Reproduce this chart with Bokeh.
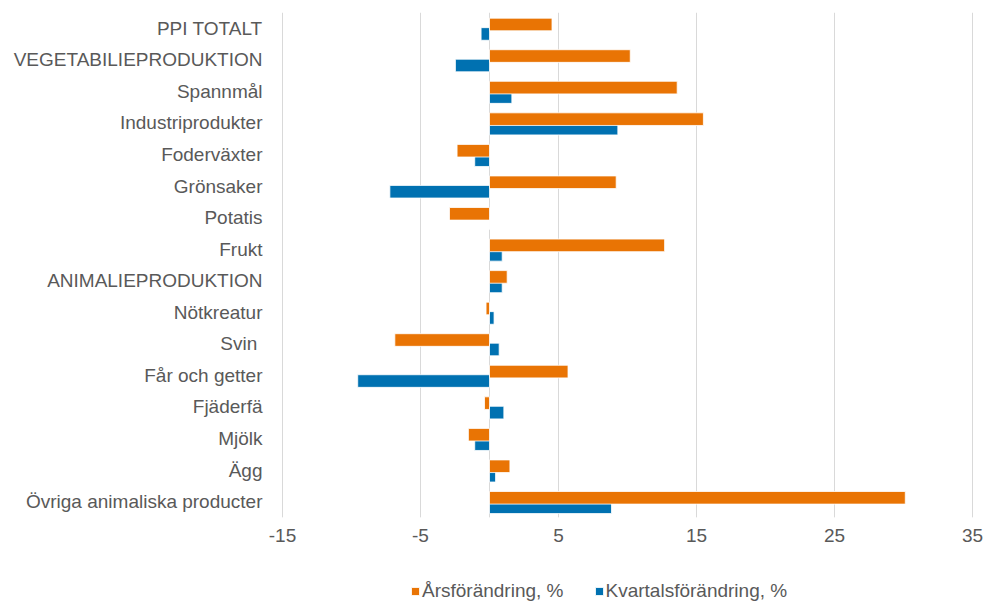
from bokeh.plotting import figure
from bokeh.models import (Range1d, FixedTicker, Legend, LegendItem, ColumnDataSource)
from bokeh.transform import dodge
from bokeh.embed import file_html
from bokeh.resources import INLINE

categories = ["PPI TOTALT", "VEGETABILIEPRODUKTION", "Spannmål", "Industriprodukter",
              "Foderväxter", "Grönsaker", "Potatis", "Frukt", "ANIMALIEPRODUKTION",
              "Nötkreatur", "Svin ", "Får och getter", "Fjäderfä", "Mjölk", "Ägg",
              "Övriga animaliska producter"]
ars = [4.53, 10.2, 13.6, 15.5, -2.35, 9.18, -2.9, 12.69, 1.28, -0.25, -6.86,
       5.69, -0.36, -1.53, 1.48, 30.13]
kvartal = [-0.61, -2.47, 1.62, 9.3, -1.07, -7.22, 0.0, 0.92, 0.92, 0.33, 0.70,
           -9.55, 1.04, -1.07, 0.44, 8.84]
x_ticks = [-15, -5, 5, 15, 25, 35]
x_tick_labels = ["-15", "-5", "5", "15", "25", "35"]

ORANGE = "#E97404"
BLUE = "#0071B1"
GRID = "#D9D9D9"
GRAY_TXT = "#595959"
FONT = "Liberation Sans"
FS = "19px"

n = len(categories)
pos = list(range(n))
top_edge = -0.5
bottom_edge = n - 0.5

src = ColumnDataSource(dict(pos=pos, ars=ars, kv=kvartal))
grid_src = ColumnDataSource(dict(x=x_ticks))

p = figure(width=989, height=603,
           x_range=Range1d(-16.449, 36.232),
           y_range=Range1d(start=18.23, end=top_edge),
           output_backend="svg", toolbar_location=None,
           min_border_left=262, min_border_right=0, min_border_top=12,
           min_border_bottom=0)
p.outline_line_color = None
p.background_fill_color = "white"
p.border_fill_color = "white"
p.xgrid.visible = False
p.ygrid.visible = False

# vertical grid lines and zero line, limited to the category area
p.segment(x0="x", x1="x", y0=top_edge, y1=bottom_edge, source=grid_src,
          line_color=GRID, line_width=1)
p.segment(x0=[0], x1=[0], y0=top_edge, y1=bottom_edge, line_color=GRID, line_width=1)

p.xaxis.ticker = FixedTicker(ticks=x_ticks)
p.xaxis.major_label_overrides = {t: s for t, s in zip(x_ticks, x_tick_labels)}
p.xaxis.fixed_location = bottom_edge
p.yaxis.ticker = FixedTicker(ticks=pos)
p.yaxis.major_label_overrides = {i: c for i, c in zip(pos, categories)}
for ax in (p.xaxis, p.yaxis):
    ax.axis_line_color = None
    ax.major_tick_line_color = None
    ax.minor_tick_line_color = None
    ax.major_tick_out = 0
    ax.major_tick_in = 0
    ax.major_label_text_font = FONT
    ax.major_label_text_font_size = FS
    ax.major_label_text_color = GRAY_TXT
p.xaxis.major_label_standoff = 12
p.yaxis.major_label_standoff = 0

r_bl = p.hbar(y=dodge("pos", 0.18), left=0, right="kv", height=0.40,
              source=src, fill_color=BLUE, line_color="white", line_width=0.8)
r_or = p.hbar(y=dodge("pos", -0.12), left=0, right="ars", height=0.40,
              source=src, fill_color=ORANGE, line_color="white", line_width=0.8)

legend = Legend(items=[LegendItem(label="Årsförändring, %", renderers=[r_or]),
                       LegendItem(label="Kvartalsförändring, %", renderers=[r_bl])],
                orientation="horizontal", location=(148, 1), glyph_width=10,
                glyph_height=10, label_standoff=2, spacing=30, padding=0, margin=0,
                border_line_color=None, background_fill_alpha=0,
                label_text_font=FONT, label_text_font_size=FS,
                label_text_color=GRAY_TXT)
p.add_layout(legend, "center")

open("out.html", "w").write(file_html(p, INLINE))
